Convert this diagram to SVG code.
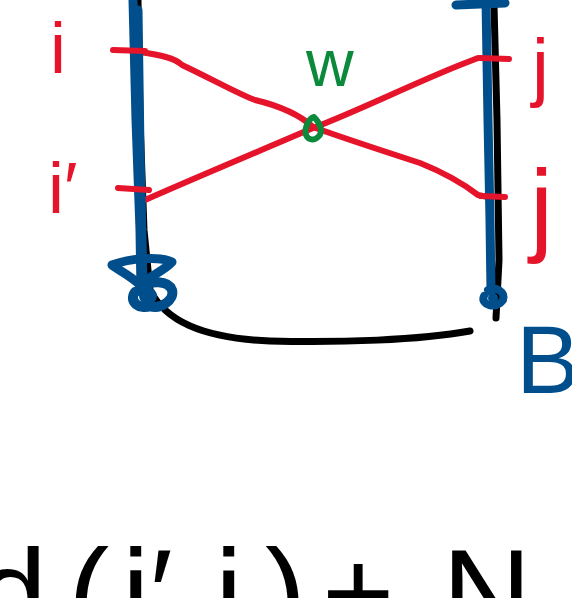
<svg xmlns="http://www.w3.org/2000/svg" width="572" height="598" viewBox="0 0 572 598">
<style>
.k{fill:none;stroke:#000;stroke-width:7;stroke-linecap:round;stroke-linejoin:round}
.b{fill:none;stroke:#004f8c;stroke-width:9;stroke-linecap:round;stroke-linejoin:round}
.r{fill:none;stroke:#e5142b;stroke-width:6;stroke-linecap:round;stroke-linejoin:round}
.g{fill:none;stroke:#0a8a3a;stroke-width:6;stroke-linecap:round;stroke-linejoin:round}
.t{font-family:"Liberation Sans",Arial,sans-serif}
</style>
<rect width="572" height="598" fill="#fff"/>
<g id="connectors">
<path class="k" d="M138 0 L140 120 L144 230 L150 290 C165 320 200 338 270 341 C340 343 420 340 470 331"/>
<path class="k" d="M494 5 L497 120 L499 260 L496 318"/>
<path class="r" d="M140 52 C160 55 175 58 182 65 C210 78 240 95 255 100 C280 106 300 115 313 127 C340 137 380 150 420 163 C450 175 465 185 478 195 L488 197"/>
<path class="r" d="M145 200 C190 180 250 155 313 128 C360 110 410 85 460 65 L478 58"/>
</g>
<g id="left-bar">
<path class="b" d="M133 0 L136 120 L140 230 L141 292"/>
<path class="b" d="M138 10 L140 150 L143 285"/>
<path class="b" d="M112 265 C130 258 160 256 172 262 C165 270 150 276 140 285 C130 275 118 270 112 265 Z"/>
<path class="b" d="M135 292 C128 302 140 310 150 306 C160 310 175 300 172 290 C168 280 150 280 140 288" style="stroke-width:10"/>
<circle cx="148" cy="296" r="9" fill="#004f8c"/>
</g>
<g id="right-bar">
<path class="b" d="M486 0 L488 120 L490 220 L491 292"/>
<path class="b" d="M456 5 L505 3"/>
<path class="b" d="M484 296 C480 305 496 310 503 300 C506 292 496 286 488 290" style="stroke-width:8"/>
<circle cx="493" cy="298" r="5" fill="#004f8c"/>
</g>
<g id="ticks">
<path class="r" d="M113 50 L145 51"/>
<path class="r" d="M118 188 L149 190"/>
<path class="r" d="M480 58 L509 59"/>
<path class="r" d="M481 196 L505 197"/>
</g>
<g id="w-node">
<path class="g" d="M306 135 C304 128 309 118 314 117 C320 123 324 132 318 137 C314 141 308 140 306 135 Z"/>
<text class="t" x="306" y="86" font-size="66" fill="#0a8a3a">w</text>
</g>
<g id="labels">
<text class="t" x="50" y="73" font-size="72" fill="#e5142b">i</text>
<text class="t" x="48" y="213" font-size="72" fill="#e5142b">i′</text>
<text class="t" x="532" y="92" font-size="76" fill="#e5142b">j</text>
<text class="t" x="530" y="242" font-size="104" fill="#e5142b">j</text>
<text class="t" x="516" y="393" font-size="96" fill="#004f8c">B</text>
</g>
<g id="formula" class="t" font-size="124" fill="#000">
<text x="-22" y="636">d</text>
<text x="68" y="636">(</text>
<text x="122" y="636">i′</text>
<text x="215" y="636">j</text>
<text x="265" y="636">)</text>
<text x="322" y="636">+</text>
<text x="442" y="636">N</text>
</g>
</svg>
